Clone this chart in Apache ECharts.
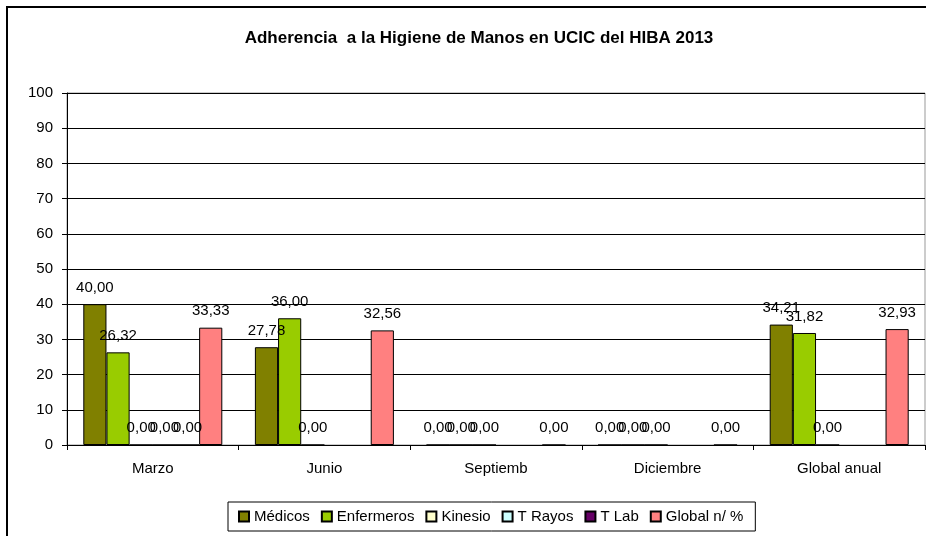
<!DOCTYPE html>
<html>
<head>
<meta charset="utf-8">
<script src="https://cdn.jsdelivr.net/npm/echarts@6/dist/echarts.min.js"></script>
<style>
	html,body{margin:0;padding:0;background:#fff;}
	#chart{width:926px;height:536px;}
</style>
</head>
<body>
<div id="chart"></div>
<script>
	// datos
	var categorias = ['Marzo','Junio','Septiemb','Diciembre','Global anual'];
	var medicos    = [40.00, 27.78, 0, 0, 34.21];
	var enfermeros = [26.32, 36.00, 0, 0, 31.82];
	var kinesio    = [0, 0, 0, 0, 0];
	var tRayos     = [0, null, null, null, null];
	var tLab       = [0, null, null, null, null];
	var globalPct  = [33.33, 32.56, 0, 0, 32.93];
	var yTicks     = [0,10,20,30,40,50,60,70,80,90,100];

	var fuente = 'Liberation Sans, Arial, sans-serif';

	function etiqueta(p){
		if(p.value == null) return '';
		return Number(p.value).toFixed(2).replace('.', ',');
	}

	function serie(nombre, datos, color){
		return {
			name: nombre,
			type: 'bar',
			data: datos,
			barGap: '0%',
			barCategoryGap: '19%',
			itemStyle: {
				color: color,
				borderColor: '#000',
				borderWidth: 1
			},
			label: {
				show: true,
				position: 'top',
				distance: 9,
				formatter: etiqueta,
				color: '#000',
				fontSize: 15,
				fontFamily: fuente
			}
		};
	}

	var chart = echarts.init(document.getElementById('chart'));
	var option = {
		animation: false,
		backgroundColor: '#fff',
		title: {
			text: 'Adherencia  a la Higiene de Manos en UCIC del HIBA 2013',
			left: 474,
			textAlign: 'center',
			top: 25,
			textStyle: {
				fontSize: 17,
				fontWeight: 'bold',
				color: '#000',
				fontFamily: fuente
			}
		},
		graphic: [{
			type: 'rect',
			shape: {x: 7, y: 7, width: 940, height: 560},
			style: {fill: 'none', stroke: '#000', lineWidth: 2},
			silent: true
		}],
		legend: {
			top: 502,
			left: 228,
			itemWidth: 10,
			itemHeight: 10,
			itemGap: 11,
			padding: [7, 12, 7, 10],
			borderColor: '#000',
			borderWidth: 1,
			icon: 'rect',
			textStyle: {
				fontSize: 15,
				color: '#000',
				fontFamily: fuente,
				padding: [0, 0, 0, 0]
			},
			data: ['Médicos','Enfermeros','Kinesio','T Rayos','T Lab','Global n/ %']
		},
		grid: {
			left: 67,
			right: 1,
			top: 93,
			bottom: 91,
			show: true,
			borderColor: '#999',
			borderWidth: 1
		},
		xAxis: {
			type: 'category',
			data: categorias,
			axisLine: {lineStyle: {color: '#000', width: 1}},
			axisTick: {show: true, length: 5, alignWithLabel: false, lineStyle: {color: '#000'}},
			axisLabel: {
				color: '#000',
				fontSize: 15,
				fontFamily: fuente,
				margin: 16
			}
		},
		yAxis: {
			type: 'value',
			min: yTicks[0],
			max: yTicks[yTicks.length - 1],
			interval: yTicks[1] - yTicks[0],
			axisLine: {show: true, lineStyle: {color: '#000', width: 1}},
			axisTick: {show: true, length: 5, lineStyle: {color: '#000'}},
			axisLabel: {
				color: '#000',
				fontSize: 15,
				fontFamily: fuente,
				margin: 14
			},
			splitLine: {lineStyle: {color: '#000', width: 1}}
		},
		series: [
			serie('Médicos', medicos, '#808000'),
			serie('Enfermeros', enfermeros, '#99CC00'),
			serie('Kinesio', kinesio, '#FFFFCC'),
			serie('T Rayos', tRayos, '#CCFFFF'),
			serie('T Lab', tLab, '#660066'),
			serie('Global n/ %', globalPct, '#FF8080')
		]
	};
	chart.setOption(option);
</script>
</body>
</html>
